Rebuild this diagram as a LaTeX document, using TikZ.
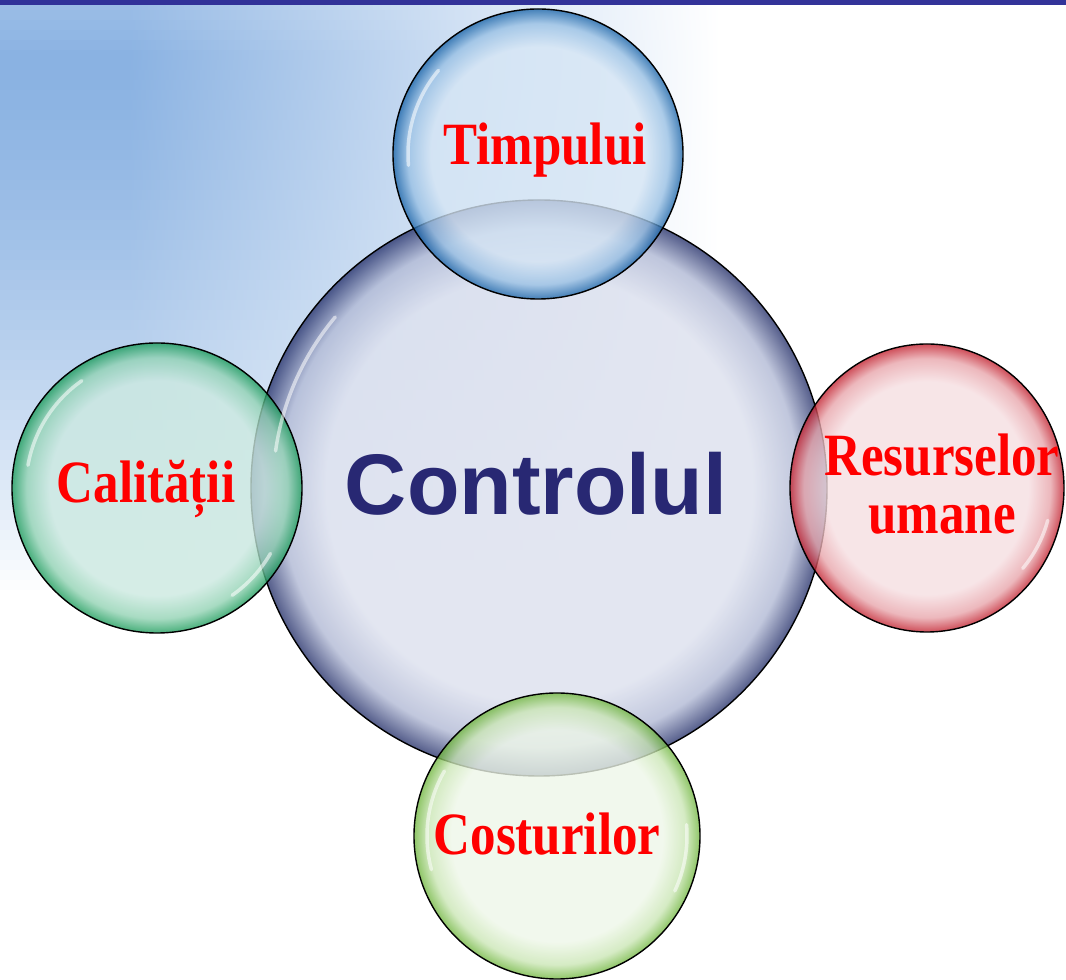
\documentclass[tikz,border=0pt]{standalone}
\usepackage{fontspec}
\setmainfont{Liberation Serif}
\newfontfamily\ctrlfont{Liberation Sans}
\newfontfamily\lblfont{Liberation Serif}[FakeStretch=0.85]
\usetikzlibrary{shapes.geometric}
\definecolor{barblue}{HTML}{333399}
\definecolor{bgblue}{HTML}{8AB2E2}
\definecolor{ctrlblue}{HTML}{282873}
\definecolor{lblred}{HTML}{FF0000}
\definecolor{bigin}{HTML}{DCE0EE}\definecolor{bigmid}{HTML}{B0B8D4}\definecolor{bigrim}{HTML}{25306A}
\definecolor{topin}{HTML}{D6E6F5}\definecolor{topmid}{HTML}{98C0E4}\definecolor{toprim}{HTML}{1A64A8}
\definecolor{lftin}{HTML}{CBE9E0}\definecolor{lftmid}{HTML}{90D2B2}\definecolor{lftrim}{HTML}{189A58}
\definecolor{rgtin}{HTML}{F6DEE1}\definecolor{rgtmid}{HTML}{E8A4AA}\definecolor{rgtrim}{HTML}{C21E2C}
\definecolor{botin}{HTML}{EEF7E8}\definecolor{botmid}{HTML}{CAE6B4}\definecolor{botrim}{HTML}{70B63E}
\colorlet{bubin}{white}\colorlet{bubmid}{gray}\colorlet{bubrim}{black}
\pgfdeclareradialshading[bubin,bubmid,bubrim]{bubble}{\pgfpoint{0bp}{0bp}}{color(0bp)=(bubin); color(18.5bp)=(bubin); color(22.5bp)=(bubmid); color(25bp)=(bubrim); color(50bp)=(bubrim)}
\tikzset{
  bub/.style={draw=black, line width=1.4pt, inner sep=0pt,
    /utils/exec={\colorlet{bubin}{#1in}\colorlet{bubmid}{#1mid}\colorlet{bubrim}{#1rim}},
    shading=bubble, fill opacity=0.78, draw opacity=1},
  hl/.style={white, line width=3.5pt, opacity=0.55, line cap=round},
  ctrl/.style={font=\ctrlfont\bfseries\fontsize{86}{86}\selectfont, text=ctrlblue, inner sep=0pt},
  lbl/.style={font=\lblfont\bfseries\fontsize{60}{58}\selectfont, text=lblred, inner sep=0pt, align=center}
}
\begin{document}
\begin{tikzpicture}[x=1pt,y=1pt]
\useasboundingbox (0,0) rectangle (1066,980);
\clip (0,0) rectangle (1066,980);
% background: blue in the upper left, fading to white to the right and downwards
\fill[white] (0,0) rectangle (1066,980);
\foreach \i in {0,...,59}{
  \pgfmathsetmacro\yy{380+10*\i}
  \pgfmathsetmacro\tfr{max((920-\yy)/540,0)}
  \pgfmathsetmacro\ppc{ifthenelse(\yy>920, 100-(\yy-920)*0.3, 100*(1-\tfr^1.5))}
  \colorlet{stripc}{bgblue!\ppc!white}
  \fill[stripc] (0,\yy) rectangle (130,\yy+10.8);
  \shade[left color=stripc, right color=white] (130,\yy) rectangle (720,\yy+10.8);
}
\fill[barblue] (0,975) rectangle (1066,980);
% bubbles
\node[bub=big, circle, minimum size=576pt] (big) at (539,492) {};
\node[bub=top, circle, minimum size=290pt] (top) at (538,826) {};
\node[bub=lft, circle, minimum size=290pt] (left) at (157,492) {};
\node[bub=rgt, ellipse, minimum width=274pt, minimum height=288pt] (right) at (927,492) {};
\node[bub=bot, circle, minimum size=286pt] (bottom) at (557,144) {};
% highlights
\draw[hl] (big.center) ++(140:266) arc[start angle=140, end angle=172, radius=266];
\draw[hl] (top.center) ++(140:130) arc[start angle=140, end angle=185, radius=130];
\draw[hl] (left.center) ++(125:131) arc[start angle=125, end angle=170, radius=131];
\draw[hl] (left.center) ++(-30:131) arc[start angle=-30, end angle=-55, radius=131];
\draw[hl] (right.center) ++(-15:125) arc[start angle=-15, end angle=-40, radius=125];
\draw[hl] (bottom.center) ++(150:130) arc[start angle=150, end angle=195, radius=130];
\draw[hl] (bottom.center) ++(5:130) arc[start angle=5, end angle=-25, radius=130];
% labels
\node[ctrl, anchor=base] (tctrl) at (536,465) {Controlul};
\node[lbl, anchor=base] (ttime) at (545,815) {Timpului};
\node[lbl, anchor=base] (tqual) at (146,477) {Calității};
\node[lbl] (thr) at (942,496) {Resurselor\\umane};
\node[lbl, anchor=base] (tcost) at (547,125) {Costurilor};
\end{tikzpicture}
\end{document}
